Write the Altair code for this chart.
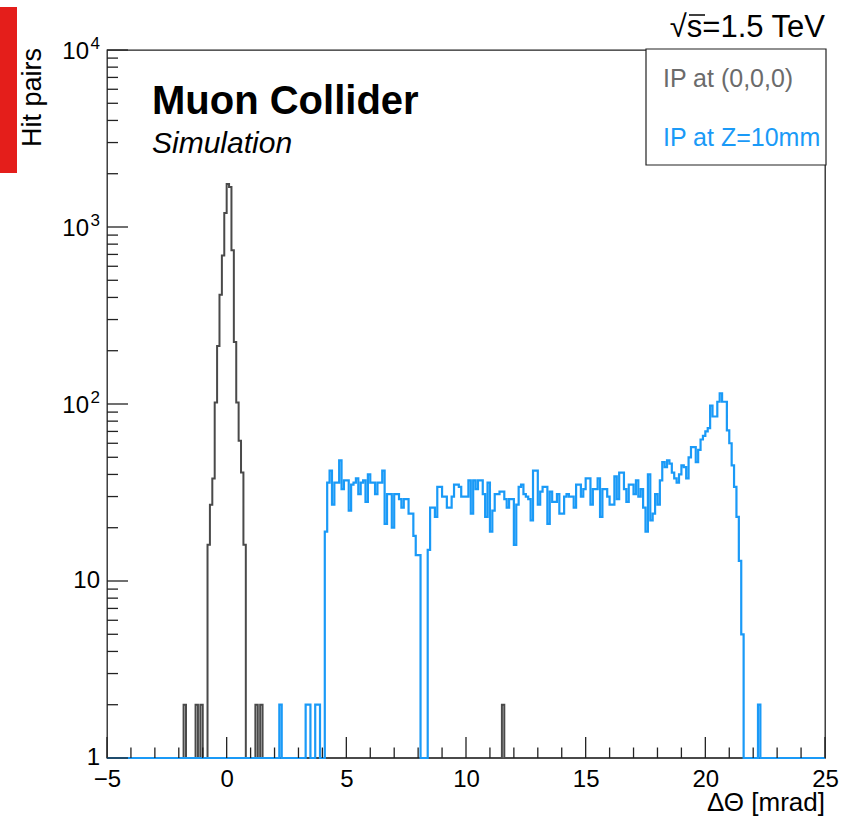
import altair as alt
import numpy as np
import pandas as pd

FONT = "Liberation Sans"
BIN_W = 0.1
X_MIN, X_MAX = -5.0, 25.0

# ---- data (bin lower edges in mrad, counts) ----
black_peak_start = -0.8
black_peak_counts = [16, 27, 38, 102, 213, 414, 690, 1200, 1750, 1680, 740, 224, 102, 62, 41, 16]
black_single_bins = [-1.8, -1.3, -1.1, 1.2, 1.4, 11.5]
black_single_count = 2

blue_single_bins = [2.2, 3.3, 3.4, 3.7, 3.8, 22.2]
blue_single_count = 2
blue_band1_start = 4.1
blue_band1_counts = [19, 36, 42, 27, 36, 36, 48, 33, 37, 37, 25, 35, 36, 38, 31, 36, 37, 28, 40, 36,
                     36, 31, 36, 36, 42, 21, 31, 31, 20, 31, 31, 29, 26, 29, 29, 24, 24, 18, 14, 14]
blue_band2_start = 8.4
blue_band2_counts = [15, 26, 26, 23, 34, 34, 30, 30, 26, 26, 30, 35, 35, 34, 30, 30, 30, 37, 24, 37,
                     33, 37, 37, 31, 23, 36, 19, 25, 31, 31, 32, 32, 29, 26, 29, 29, 16, 27, 34, 35,
                     31, 30, 29, 22, 42, 42, 27, 32, 34, 34, 21, 32, 28, 28, 31, 24, 24, 30, 31, 30,
                     30, 26, 35, 35, 30, 33, 38, 38, 27, 33, 33, 38, 23, 33, 33, 30, 27, 27, 39, 29,
                     41, 41, 33, 28, 35, 35, 31, 37, 30,
                     33, 26, 19, 40, 22, 24, 31, 27, 37, 47, 44, 48, 46, 41, 38, 36, 40, 45, 44, 38,
                     50, 57, 57, 47, 55, 63, 66, 70, 73, 98, 85, 85, 103, 115, 103, 103, 71, 60, 45, 34,
                     23, 13, 5]

x_tick_values = [-5, 0, 5, 10, 15, 20, 25]
x_minor_values = [v for v in range(-5, 26) if v % 5 != 0]
y_major_values = [1, 10, 100, 1000, 10000]
y_minor_values = [m * 10 ** k for k in range(4) for m in range(2, 10)]
y_plain_values = [1, 10]
y_plain_texts = ["1", "10"]
y_power_values = [100, 1000, 10000]
y_power_base = ["10", "10", "10"]
y_power_exp = ["2", "3", "4"]

BLACK = "#4a4a4a"
BLUE = "#1a9af7"
GREY_TXT = "#6b6b6b"
AXIS_C = "#222222"

n_bins = int(round((X_MAX - X_MIN) / BIN_W))


def make_hist(parts, singles, single_count):
    counts = np.zeros(n_bins)
    for start, vals in parts:
        i0 = int(round((start - X_MIN) / BIN_W))
        counts[i0:i0 + len(vals)] = vals
    for b in singles:
        counts[int(round((b - X_MIN) / BIN_W))] = single_count
    edges = X_MIN + np.arange(n_bins + 1) * BIN_W
    shown = np.maximum(np.append(counts, counts[-1]), 1.0)
    return pd.DataFrame({"x": np.round(edges, 2), "y": shown})


black_df = make_hist([(black_peak_start, black_peak_counts)], black_single_bins, black_single_count)
blue_df = make_hist([(blue_band1_start, blue_band1_counts), (blue_band2_start, blue_band2_counts)],
                    blue_single_bins, blue_single_count)

W, H = 718, 708
xs = alt.Scale(domain=[X_MIN, X_MAX], nice=False, zero=False)
ys = alt.Scale(type="log", domain=[1, 10000], nice=False, clamp=True)
xaxis = alt.Axis(values=x_tick_values, format="d", labelFontSize=24, labelFont=FONT,
                 labelColor="black", labelPadding=9, domain=False, ticks=False, grid=False,
                 title=None, labelFlush=False)

one = pd.DataFrame({"a": [0]})


def X(field="x:Q"):
    return alt.X(field, scale=xs, axis=xaxis)


def Y(field="y:Q"):
    return alt.Y(field, scale=ys, axis=None)


black_line = alt.Chart(black_df).mark_line(interpolate="step-after", strokeWidth=2, color=BLACK).encode(
    x=X(), y=Y())
blue_line = alt.Chart(blue_df).mark_line(interpolate="step-after", strokeWidth=2.2, color=BLUE).encode(
    x=X(), y=Y())

x_major = alt.Chart(pd.DataFrame({"x": x_tick_values})).mark_rule(color=AXIS_C, strokeWidth=1.3).encode(
    x=X(), y=alt.value(H), y2=alt.value(H - 21))
x_minor = alt.Chart(pd.DataFrame({"x": x_minor_values})).mark_rule(color=AXIS_C, strokeWidth=1.3).encode(
    x=X(), y=alt.value(H), y2=alt.value(H - 10.5))
y_major = alt.Chart(pd.DataFrame({"y": y_major_values})).mark_rule(color=AXIS_C, strokeWidth=1.3).encode(
    y=Y(), x=alt.value(0), x2=alt.value(21))
y_minor = alt.Chart(pd.DataFrame({"y": y_minor_values})).mark_rule(color=AXIS_C, strokeWidth=1.3).encode(
    y=Y(), x=alt.value(0), x2=alt.value(11))

y_plain = alt.Chart(pd.DataFrame({"y": y_plain_values, "t": y_plain_texts})).mark_text(
    align="right", baseline="middle", fontSize=24, font=FONT, color="black", dy=0).encode(
    y=Y(), x=alt.value(-7), text="t:N")
y_pow_base = alt.Chart(pd.DataFrame({"y": y_power_values, "t": y_power_base})).mark_text(
    align="right", baseline="middle", fontSize=24, font=FONT, color="black", dy=2).encode(
    y=Y(), x=alt.value(-18), text="t:N")
y_pow_exp = alt.Chart(pd.DataFrame({"y": y_power_values, "t": y_power_exp})).mark_text(
    align="right", baseline="middle", fontSize=17, font=FONT, color="black", dy=-6).encode(
    y=Y(), x=alt.value(-7), text="t:N")


def txt(text, x, y, size, align="left", baseline="alphabetic", color="black", weight="normal",
        style="normal", angle=0):
    return alt.Chart(one).mark_text(text=text, align=align, baseline=baseline, fontSize=size, font=FONT,
                                    color=color, fontWeight=weight, fontStyle=style, angle=angle).encode(
        x=alt.value(x), y=alt.value(y))


red_bar = alt.Chart(one).mark_rect(color="#e41e1b").encode(
    x=alt.value(-107), x2=alt.value(-90), y=alt.value(-43), y2=alt.value(123))
legend_box = alt.Chart(one).mark_rect(fill="white", stroke=AXIS_C, strokeWidth=1.2).encode(
    x=alt.value(539), x2=alt.value(719), y=alt.value(-1), y2=alt.value(115))
sqrt_bar = alt.Chart(one).mark_rule(color="black", strokeWidth=1.5).encode(
    x=alt.value(582), x2=alt.value(598), y=alt.value(-35))

layers = [
    black_line, blue_line,
    x_major, x_minor, y_major, y_minor,
    y_plain, y_pow_base, y_pow_exp,
    red_bar, legend_box,
    txt("IP at (0,0,0)", 556, 37, 25, color=GREY_TXT),
    txt("IP at Z=10mm", 556, 96, 25, color=BLUE),
    txt("\u221As=1.5 TeV", 718, -13, 31, align="right"),
    sqrt_bar,
    txt("Muon Collider", 45, 64, 40, weight="bold"),
    txt("Simulation", 45, 103, 30, style="italic"),
    txt("Hit pairs", -74, -2, 27, align="right", baseline="middle", angle=270),
    txt("\u0394\u0398 [mrad]", W, H + 53, 26, align="right"),
]

chart = alt.layer(*layers).properties(
    width=W, height=H,
    autosize=alt.AutoSizeParams(type="none"),
    padding={"left": 107, "top": 50, "right": 21, "bottom": 61},
).configure_view(stroke=AXIS_C, strokeWidth=1.3)

chart.save("out.html", embed_options={"renderer": "svg", "actions": False})
